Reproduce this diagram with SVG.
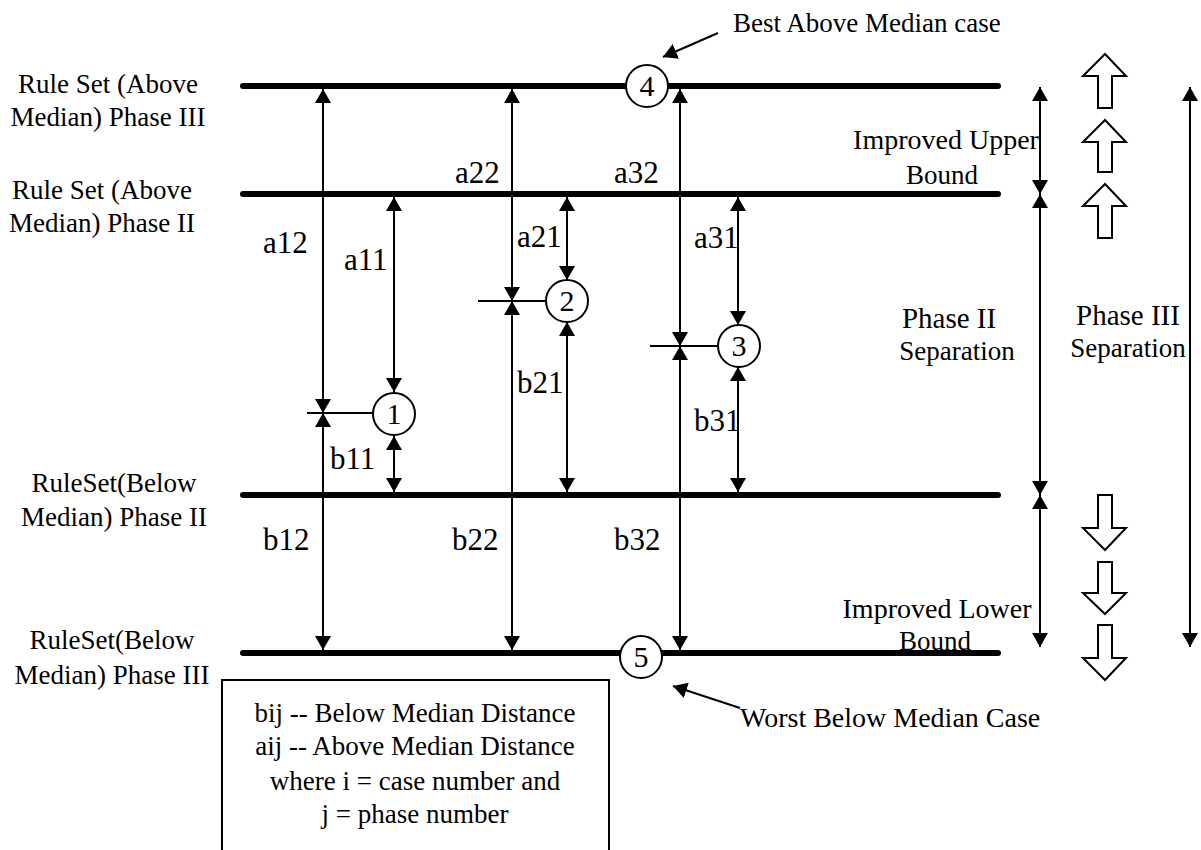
<svg xmlns="http://www.w3.org/2000/svg" width="1201" height="850" viewBox="0 0 1201 850">
<style>
text{font-family:"Liberation Serif","Times New Roman",serif;font-size:27px;fill:#000}
.m{text-anchor:middle}
.lb{font-size:31px}
.bar{stroke:#000;stroke-width:6;stroke-linecap:round;fill:none}
.ar{stroke:#000;stroke-width:2;fill:none;marker-start:url(#ah);marker-end:url(#ah)}
.tk{stroke:#000;stroke-width:2;fill:none}
.one{stroke:#000;stroke-width:2;fill:none;marker-end:url(#ah)}
.node circle{fill:#fff;stroke:#000;stroke-width:2}
.node text{font-size:30px;text-anchor:middle}
.hol{fill:#fff;stroke:#000;stroke-width:2;stroke-linejoin:miter}
</style>
<defs>
<marker id="ah" viewBox="0 0 14 16" refX="14" refY="8" markerWidth="14" markerHeight="16" markerUnits="userSpaceOnUse" orient="auto-start-reverse"><path d="M0,0 L14,8 L0,16 z" fill="#000"/></marker>
</defs>
<rect width="1201" height="850" fill="#fff"/>

<g id="levels">
<line class="bar" x1="243" y1="86" x2="998" y2="86"/>
<line class="bar" x1="243" y1="194" x2="998" y2="194"/>
<line class="bar" x1="243" y1="495" x2="998" y2="495"/>
<line class="bar" x1="243" y1="653" x2="998" y2="653"/>
</g>

<g id="level-labels">
<text class="m" x="108" y="93">Rule Set (Above</text>
<text class="m" x="108" y="126">Median) Phase III</text>
<text class="m" x="102" y="199">Rule Set (Above</text>
<text class="m" x="102" y="232">Median) Phase II</text>
<text class="m" x="114" y="492">RuleSet(Below</text>
<text class="m" x="114" y="526">Median) Phase II</text>
<text class="m" x="112" y="649">RuleSet(Below</text>
<text class="m" x="112" y="684">Median) Phase III</text>
</g>

<g id="connectors">
<line class="ar" x1="323" y1="89" x2="323" y2="413"/>
<line class="ar" x1="323" y1="413" x2="323" y2="650"/>
<line class="tk" x1="307" y1="413" x2="373" y2="413"/>
<line class="ar" x1="394" y1="197" x2="394" y2="392"/>
<line class="ar" x1="394" y1="436" x2="394" y2="492"/>
<line class="ar" x1="512" y1="89" x2="512" y2="301"/>
<line class="ar" x1="512" y1="301" x2="512" y2="650"/>
<line class="tk" x1="478" y1="301" x2="546" y2="301"/>
<line class="ar" x1="567" y1="197" x2="567" y2="280"/>
<line class="ar" x1="567" y1="322" x2="567" y2="492"/>
<line class="ar" x1="680" y1="89" x2="680" y2="346"/>
<line class="ar" x1="680" y1="346" x2="680" y2="650"/>
<line class="tk" x1="650" y1="346" x2="718" y2="346"/>
<line class="ar" x1="738" y1="197" x2="738" y2="325"/>
<line class="ar" x1="738" y1="367" x2="738" y2="492"/>
<line class="ar" x1="1040" y1="87" x2="1040" y2="194"/>
<line class="ar" x1="1040" y1="194" x2="1040" y2="495"/>
<line class="ar" x1="1040" y1="495" x2="1040" y2="647"/>
<line class="ar" x1="1190" y1="87" x2="1190" y2="647"/>
<line class="one" x1="718" y1="33" x2="663" y2="57"/>
<line class="one" x1="740" y1="708" x2="673" y2="686"/>
</g>

<g id="distance-labels" class="lb">
<text class="lb" x="263" y="253">a12</text>
<text class="lb" x="344" y="270">a11</text>
<text class="lb" x="455" y="183">a22</text>
<text class="lb" x="517" y="247">a21</text>
<text class="lb" x="614" y="183">a32</text>
<text class="lb" x="694" y="248">a31</text>
<text class="lb" x="517" y="393">b21</text>
<text class="lb" x="694" y="431">b31</text>
<text class="lb" x="330" y="469">b11</text>
<text class="lb" x="263" y="550">b12</text>
<text class="lb" x="452" y="550">b22</text>
<text class="lb" x="614" y="550">b32</text>
</g>

<g id="node1" class="node"><circle cx="394" cy="414" r="21"/><text x="394" y="424">1</text></g>
<g id="node2" class="node"><circle cx="567" cy="301" r="21"/><text x="567" y="311">2</text></g>
<g id="node3" class="node"><circle cx="739" cy="346" r="21"/><text x="739" y="356">3</text></g>
<g id="node4" class="node"><circle cx="647" cy="86" r="21"/><text x="647" y="96">4</text></g>
<g id="node5" class="node"><circle cx="641" cy="657" r="21"/><text x="641" y="667">5</text></g>

<g id="annotations">
<text x="733" y="32">Best Above Median case</text>
<text x="740" y="727" style="font-size:28px">Worst Below Median Case</text>
<text class="m" x="946" y="149" style="font-size:28px">Improved Upper</text>
<text class="m" x="942" y="184">Bound</text>
<text class="m" x="949" y="328" style="font-size:29px">Phase II</text>
<text class="m" x="957" y="360">Separation</text>
<text class="m" x="1128" y="325" style="font-size:29px">Phase III</text>
<text class="m" x="1128" y="357">Separation</text>
<text class="m" x="937" y="618" style="font-size:28px">Improved Lower</text>
<text class="m" x="935" y="650">Bound</text>
</g>

<g id="hollow-arrows">
<polygon class="hol" points="1105,54 1126,76 1112,76 1112,108 1098,108 1098,76 1083,76"/>
<polygon class="hol" points="1105,120 1126,142 1112,142 1112,172 1098,172 1098,142 1083,142"/>
<polygon class="hol" points="1105,184 1126,206 1112,206 1112,238 1098,238 1098,206 1083,206"/>
<polygon class="hol" points="1098,495 1112,495 1112,528 1126,528 1105,550 1083,528 1098,528"/>
<polygon class="hol" points="1098,562 1112,562 1112,593 1126,593 1105,614 1083,593 1098,593"/>
<polygon class="hol" points="1098,625 1112,625 1112,658 1126,658 1105,680 1083,658 1098,658"/>
</g>

<g id="legend">
<rect x="222" y="680" width="387" height="190" fill="#fff" stroke="#000" stroke-width="2"/>
<text class="m" x="415" y="722">bij -- Below Median Distance</text>
<text class="m" x="415" y="755">aij -- Above Median Distance</text>
<text class="m" x="415" y="790">where i = case number and</text>
<text class="m" x="415" y="823">j = phase number</text>
</g>
</svg>
